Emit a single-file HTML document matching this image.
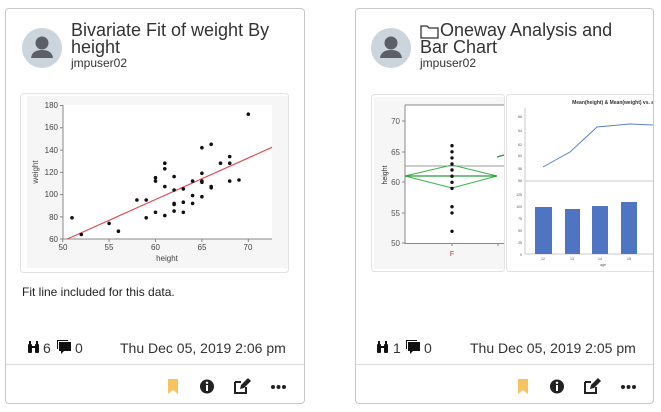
<!DOCTYPE html>
<html><head><meta charset="utf-8"><style>
body{margin:0;width:661px;height:412px;background:#fff;font-family:"Liberation Sans",sans-serif;color:#333;position:relative;overflow:hidden}
.card{position:absolute;top:8px;height:396px;border:1px solid #c8c8c8;border-radius:4px;box-sizing:border-box;background:#fff}
.abs{position:absolute}
.title{font-size:18px;line-height:17px;color:#333}
.user{font-size:12px;color:#333}
.date{font-size:14px;color:#333}
</style></head><body>

<div class="card" style="left:5px;width:300px"></div>
<div class="card" style="left:355px;width:299px"></div>

<!-- card1 header -->
<svg class="abs" style="left:22px;top:28px" width="40" height="40"><circle cx="20" cy="20" r="20" fill="#ccd4dd"/><circle cx="20" cy="15" r="6.5" fill="#5b6068"/><path d="M9 30 Q10 22 20 22 Q30 22 31 30 Z" fill="#5b6068"/></svg>
<div class="abs title" style="left:71px;top:22px">Bivariate Fit of weight By<br>height</div>
<div class="abs user" style="left:71px;top:56px">jmpuser02</div>

<!-- scatter -->
<svg class="abs" style="left:0;top:0" width="305" height="280">
<rect x="20.5" y="93.5" width="268" height="179" rx="3" fill="#fff" stroke="#e2e2e2"/>
<rect x="27" y="96" width="261" height="172" fill="#f6f6f6"/>
<rect x="63" y="105" width="209" height="134" fill="#fff"/>
<g stroke="#888" stroke-width="1" fill="none">
<path d="M63 105V239H272"/>
<path d="M60 105.5h3M60 127.8h3M60 150.1h3M60 172.4h3M60 194.6h3M60 216.9h3M60 239h3"/>
<path d="M62.7 239v3M109.1 239v3M155.5 239v3M201.9 239v3M248.3 239v3"/>
</g>
<g font-size="8" fill="#444" text-anchor="end">
<text x="58" y="108">180</text><text x="58" y="130">160</text><text x="58" y="153">140</text><text x="58" y="175">120</text><text x="58" y="197">100</text><text x="58" y="220">80</text><text x="58" y="242">60</text>
</g>
<g font-size="8" fill="#444" text-anchor="middle">
<text x="63" y="250">50</text><text x="109" y="250">55</text><text x="155.5" y="250">60</text><text x="202" y="250">65</text><text x="248" y="250">70</text>
<text x="167" y="261">height</text>
<text transform="translate(38,172) rotate(-90)">weight</text>
</g>
<line x1="67.3" y1="239" x2="272" y2="147.3" stroke="#e0505a" stroke-width="1.2"/>
<g fill="#111">
<circle cx="72" cy="217.8" r="1.8"/><circle cx="81.3" cy="234.5" r="1.8"/><circle cx="109.1" cy="223.4" r="1.8"/><circle cx="118.4" cy="231.2" r="1.8"/>
<circle cx="136.9" cy="200" r="1.8"/><circle cx="146.2" cy="200" r="1.8"/><circle cx="146.2" cy="217.8" r="1.8"/>
<circle cx="155.5" cy="177.7" r="1.8"/><circle cx="155.5" cy="181.1" r="1.8"/><circle cx="155.5" cy="212.3" r="1.8"/>
<circle cx="164.8" cy="163.2" r="1.8"/><circle cx="164.8" cy="168.8" r="1.8"/><circle cx="164.8" cy="186.6" r="1.8"/><circle cx="164.8" cy="215.6" r="1.8"/>
<circle cx="174.1" cy="176.6" r="1.8"/><circle cx="174.1" cy="190" r="1.8"/><circle cx="174.1" cy="203.4" r="1.8"/><circle cx="174.1" cy="204.5" r="1.8"/><circle cx="174.1" cy="211.1" r="1.8"/>
<circle cx="183.3" cy="188.9" r="1.8"/><circle cx="183.3" cy="202.2" r="1.8"/><circle cx="183.3" cy="212.3" r="1.8"/>
<circle cx="192.6" cy="181.1" r="1.8"/><circle cx="192.6" cy="195.6" r="1.8"/><circle cx="192.6" cy="203.4" r="1.8"/>
<circle cx="201.9" cy="147.7" r="1.8"/><circle cx="201.9" cy="173.3" r="1.8"/><circle cx="201.9" cy="181.1" r="1.8"/><circle cx="201.9" cy="182.2" r="1.8"/><circle cx="201.9" cy="196.7" r="1.8"/>
<circle cx="211.2" cy="144.3" r="1.8"/><circle cx="211.2" cy="186.6" r="1.8"/><circle cx="211.2" cy="187.8" r="1.8"/>
<circle cx="220.5" cy="163.2" r="1.8"/><circle cx="229.7" cy="156.6" r="1.8"/><circle cx="229.7" cy="163.2" r="1.8"/><circle cx="229.7" cy="181.1" r="1.8"/>
<circle cx="239" cy="180" r="1.8"/><circle cx="248.3" cy="114.2" r="1.8"/>
</g>
</svg>
<div class="abs" style="left:22px;top:285px;font-size:12px;color:#222">Fit line included for this data.</div>

<!-- card1 footer -->
<svg class="abs" style="left:27px;top:341px" width="14" height="12"><rect x="1" y="3" width="4" height="9" rx="1" fill="#111"/><rect x="8" y="3" width="4" height="9" rx="1" fill="#111"/><rect x="2" y="0" width="2" height="3" fill="#111"/><rect x="9" y="0" width="2" height="3" fill="#111"/><rect x="4" y="5" width="5" height="2" fill="#111"/></svg>
<div class="abs date" style="left:43px;top:340px">6</div>
<svg class="abs" style="left:56px;top:340px" width="16" height="15"><rect x="3" y="2" width="12" height="9" fill="#111"/><path d="M1 0h11v1H2v8H1z" fill="#111"/><path d="M5 11h3l-3 3z" fill="#111"/></svg>
<div class="abs date" style="left:75px;top:340px">0</div>
<div class="abs date" style="left:120px;top:340px">Thu Dec 05, 2019 2:06 pm</div>
<div class="abs" style="left:6px;width:298px;top:364px;border-top:1px solid #ddd"></div>
<svg class="abs" style="left:166px;top:378px" width="130" height="18">
<path d="M2 1h10v15l-5-4-5 4z" fill="#f7c35f"/>
<circle cx="41" cy="8.5" r="7" fill="#222"/><rect x="40" y="7" width="2" height="6" fill="#fff"/><circle cx="41" cy="4.8" r="1.2" fill="#fff"/>
<path d="M69 4h6M69 4v11h11v-6" stroke="#222" stroke-width="2" fill="none"/><path d="M74 11l1-4 7-7 3 3-7 7z" fill="#222"/>
<circle cx="107" cy="9" r="2" fill="#222"/><circle cx="112.5" cy="9" r="2" fill="#222"/><circle cx="118" cy="9" r="2" fill="#222"/>
</svg>

<!-- card2 header -->
<svg class="abs" style="left:371px;top:28px" width="40" height="40"><circle cx="20" cy="20" r="20" fill="#ccd4dd"/><circle cx="20" cy="15" r="6.5" fill="#5b6068"/><path d="M9 30 Q10 22 20 22 Q30 22 31 30 Z" fill="#5b6068"/></svg>
<svg class="abs" style="left:420px;top:24px" width="19" height="15"><path d="M1 2h6l2 2h9v10H1z" fill="none" stroke="#333" stroke-width="1.3"/></svg>
<div class="abs title" style="left:440px;top:22px">Oneway Analysis and</div>
<div class="abs title" style="left:420px;top:39px">Bar Chart</div>
<div class="abs user" style="left:420px;top:56px">jmpuser02</div>

<!-- card2 charts -->
<svg class="abs" style="left:356px;top:0" width="297" height="280">
<rect x="15.5" y="94.5" width="133" height="177" rx="3" fill="#fff" stroke="#e2e2e2"/>
<rect x="18" y="97" width="130" height="172" fill="#f6f6f6"/>
<rect x="49" y="105" width="99" height="138" fill="#fff"/>
<path d="M49 105h99M49 105V243.5H148" stroke="#888" fill="none"/>
<path d="M46 121h3M46 152h3M46 182h3M46 213h3M46 243h3M96 243v3M142 243v3" stroke="#888"/>
<g font-size="8" fill="#555" text-anchor="end"><text x="44" y="124">70</text><text x="44" y="155">65</text><text x="44" y="185">60</text><text x="44" y="216">55</text><text x="44" y="246">50</text></g>
<text x="96" y="256" font-size="7" fill="#c33" text-anchor="middle">F</text>
<text transform="translate(31,175) rotate(-90)" font-size="7" fill="#333" text-anchor="middle">height</text>
<line x1="49" y1="166" x2="148" y2="166" stroke="#999"/>
<path d="M49 176L96 165L141 176L96 188Z" fill="none" stroke="#3bb34a"/>
<line x1="49" y1="176" x2="141" y2="176" stroke="#2a9b3a" stroke-width="1.3"/>
<path d="M141 157l7 -2" stroke="#2a9b3a" stroke-width="1.3"/>
<g fill="#111"><circle cx="96" cy="145.7" r="1.7"/><circle cx="96" cy="151.8" r="1.7"/><circle cx="96" cy="157.9" r="1.7"/><circle cx="96" cy="164" r="1.7"/><circle cx="96" cy="170" r="1.7"/><circle cx="96" cy="176.2" r="1.7"/><circle cx="96" cy="182.3" r="1.7"/><circle cx="96" cy="188.4" r="1.7"/><circle cx="96" cy="206.7" r="1.7"/><circle cx="96" cy="212.9" r="1.7"/><circle cx="96" cy="231.3" r="1.7"/></g>

<rect x="150.5" y="94.5" width="150" height="177" rx="3" fill="#fff" stroke="#e2e2e2"/>
<text x="260" y="104" font-size="5" font-weight="bold" fill="#333" text-anchor="middle">Mean(height) &amp; Mean(weight) vs. age</text>
<path d="M169 108V254H300M169 181H300" stroke="#bbb" fill="none" stroke-width="0.8"/>
<polyline points="187,167 214,152 241,127 274,124 298,125" fill="none" stroke="#5d7fc6" stroke-width="1"/>
<g fill="#4f74c1"><rect x="179" y="207" width="17" height="47"/><rect x="209" y="209" width="15" height="45"/><rect x="236" y="206" width="16" height="48"/><rect x="265" y="202" width="16" height="52"/></g>
<g font-size="3.5" fill="#555" text-anchor="end"><text x="166" y="118">66</text><text x="166" y="132">64</text><text x="166" y="146">62</text><text x="166" y="157">60</text><text x="166" y="170">58</text><text x="166" y="182">56</text><text x="166" y="196">125</text><text x="166" y="208">100</text><text x="166" y="220">75</text><text x="166" y="232">50</text><text x="166" y="244">25</text><text x="166" y="256">0</text></g>
<g font-size="3.5" fill="#555" text-anchor="middle"><text x="187" y="260">12</text><text x="216" y="260">13</text><text x="244" y="260">14</text><text x="273" y="260">15</text><text x="247" y="266">age</text></g>
</svg>
<div class="abs" style="left:654px;top:8px;width:7px;height:300px;background:#fff"></div>

<!-- card2 footer -->
<svg class="abs" style="left:376px;top:341px" width="14" height="12"><rect x="1" y="3" width="4" height="9" rx="1" fill="#111"/><rect x="8" y="3" width="4" height="9" rx="1" fill="#111"/><rect x="2" y="0" width="2" height="3" fill="#111"/><rect x="9" y="0" width="2" height="3" fill="#111"/><rect x="4" y="5" width="5" height="2" fill="#111"/></svg>
<div class="abs date" style="left:393px;top:340px">1</div>
<svg class="abs" style="left:405px;top:340px" width="16" height="15"><rect x="3" y="2" width="12" height="9" fill="#111"/><path d="M1 0h11v1H2v8H1z" fill="#111"/><path d="M5 11h3l-3 3z" fill="#111"/></svg>
<div class="abs date" style="left:424px;top:340px">0</div>
<div class="abs date" style="left:470px;top:340px">Thu Dec 05, 2019 2:05 pm</div>
<div class="abs" style="left:356px;width:297px;top:364px;border-top:1px solid #ddd"></div>
<svg class="abs" style="left:516px;top:378px" width="130" height="18">
<path d="M2 1h10v15l-5-4-5 4z" fill="#f7c35f"/>
<circle cx="41" cy="8.5" r="7" fill="#222"/><rect x="40" y="7" width="2" height="6" fill="#fff"/><circle cx="41" cy="4.8" r="1.2" fill="#fff"/>
<path d="M69 4h6M69 4v11h11v-6" stroke="#222" stroke-width="2" fill="none"/><path d="M74 11l1-4 7-7 3 3-7 7z" fill="#222"/>
<circle cx="107" cy="9" r="2" fill="#222"/><circle cx="112.5" cy="9" r="2" fill="#222"/><circle cx="118" cy="9" r="2" fill="#222"/>
</svg>
</body></html>
